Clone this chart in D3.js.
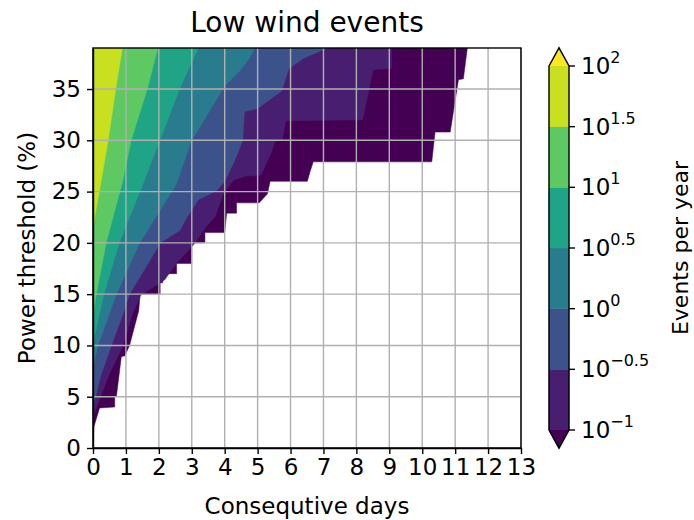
<!DOCTYPE html>
<html lang="en">
<head>
<meta charset="utf-8">
<title>Low wind events</title>
<style>
  body { margin: 0; background: #fff; }
  svg text { font-family: "DejaVu Sans", sans-serif; fill: #000; }
  .grid line { stroke: #b0b0b0; stroke-width: 1.4; }
  .axis path, .axis line { stroke: #000; stroke-width: 1.4; }
</style>
</head>
<body>
<svg id="chart" width="694" height="520"></svg>
<script src="https://d3js.org/d3.v7.min.js"></script>
<script>
// contour levels, log10(events per year)
var levels = [-1, -0.5, 0, 0.5, 1, 1.5, 2];
var xTicks = [0, 1, 2, 3, 4, 5, 6, 7, 8, 9, 10, 11, 12, 13];
var yTicks = [0, 5, 10, 15, 20, 25, 30, 35];
var cbarLabels = ["\u22121", "\u22120.5", "0", "0.5", "1", "1.5", "2"];

// boundaries: [power threshold %, consecutive days]
// edge of any event (events > 0)
var edgeAny = [[0.8, 0], [2.1, 0.03], [3.9, 0.2], [4.0, 0.66], [5.0, 0.66], [5.0, 0.71], [8.9, 0.86], [9.0, 0.97],
  [10, 1.11], [13.4, 1.39], [15, 1.43], [15, 2.04], [16.1, 2.04], [16.1, 2.12], [17, 2.12], [17, 2.54], [18, 2.54],
  [18, 3.0], [20, 3.0], [20, 3.4], [21, 3.4], [21, 4.0], [22.9, 4.06], [22.9, 4.36], [23.9, 4.36], [23.9, 5.05],
  [24.8, 5.3], [26, 5.38], [26, 6.51], [26.9, 6.59], [27.9, 6.69], [27.9, 10.29], [30.8, 10.39], [30.8, 10.85],
  [35.9, 11.1], [36, 11.25], [39, 11.37]];
// events >= 10^-1
var edgeM10 = [[3.05, 0], [5, 0.23], [6.95, 0.46], [10, 0.91], [13.1, 1.2], [14.9, 1.45], [16.4, 2.18], [18, 2.53],
  [19.95, 3.09], [21.6, 3.44], [22.5, 3.7], [24.8, 3.96], [26.1, 4.26], [26.5, 4.62], [26.6, 5.1], [28.9, 5.43],
  [29.9, 5.53], [30, 5.75], [31.9, 5.86], [32, 8.19], [36.9, 8.51], [37, 9.07], [39, 9.07]];
// events >= 10^-0.5
var edgeM05 = [[4, 0], [7, 0.23], [10, 0.56], [13.4, 0.95], [15, 1.11], [17.7, 1.62], [20, 2.05], [21.2, 2.64],
  [22.2, 2.8], [24.2, 3.2], [25.1, 3.76], [26, 4.0], [28, 4.3], [30, 4.55], [32.8, 4.6], [33.1, 5.0], [34.8, 5.73],
  [37, 5.95], [38, 6.4], [38.7, 6.9], [39, 7.1]];
// events >= 10^0
var edgeP00 = [[7.8, 0], [10, 0.15], [15, 0.71], [20, 1.42], [25.7, 2.53], [30, 2.99], [31.3, 3.25], [33.2, 3.6],
  [34.8, 3.91], [35.5, 4.06], [36.8, 4.47], [38.1, 4.77], [39, 4.92]];
// events >= 10^0.5
var edgeP05 = [[10.2, 0], [15, 0.33], [20, 0.8], [26, 1.55], [30, 2.03], [35, 2.63], [39, 3.2]];
// events >= 10^1
var edgeP10 = [[12.8, 0], [15, 0.1], [20, 0.4], [26, 0.9], [30, 1.16], [35, 1.65], [39, 1.97]];
// events >= 10^1.5
var edgeP15 = [[21.6, 0], [25, 0.19], [30, 0.46], [35, 0.69], [39, 0.89]];

var edges = [edgeAny, edgeM10, edgeM05, edgeP00, edgeP05, edgeP10, edgeP15];

// viridis like matplotlib contourf with extend='both' (layer midpoints)
var fillColors = [d3.interpolateViridis(0)].concat(
  d3.range(6).map(function(i) { return d3.interpolateViridis((2 * i + 1) / 12); }));
var overColor = d3.interpolateViridis(1);

var svg = d3.select('#chart');
var plot = {left: 93, right: 521, top: 48, bottom: 448};
var fs = 23;

var x = d3.scaleLinear().domain([0, 13]).range([plot.left, plot.right]);
var y = d3.scaleLinear().domain([0, 39]).range([plot.bottom, plot.top]);

svg.append('clipPath').attr('id', 'clip')
  .append('rect')
  .attr('x', plot.left).attr('y', plot.top)
  .attr('width', plot.right - plot.left).attr('height', plot.bottom - plot.top);

// filled contours
var line = d3.line()
  .x(function(d) { return x(d[1]); })
  .y(function(d) { return y(d[0]); });

var regions = svg.append('g').attr('clip-path', 'url(#clip)');
edges.forEach(function(edge, i) {
  var pts = [[edge[0][0], 0]].concat(edge, [[39, 0]]);
  regions.append('path')
    .attr('d', line(pts) + 'Z')
    .attr('fill', fillColors[i])
    .attr('stroke', fillColors[i])
    .attr('stroke-width', 0.5);
});

// grid
var grid = svg.append('g').attr('class', 'grid');
grid.selectAll('.gx').data(xTicks).enter().append('line')
  .attr('x1', function(d) { return x(d); }).attr('x2', function(d) { return x(d); })
  .attr('y1', plot.top).attr('y2', plot.bottom);
grid.selectAll('.gy').data(yTicks).enter().append('line')
  .attr('y1', function(d) { return y(d); }).attr('y2', function(d) { return y(d); })
  .attr('x1', plot.left).attr('x2', plot.right);

// axes
svg.append('g').attr('class', 'axis')
  .attr('transform', 'translate(0,' + plot.bottom + ')')
  .call(d3.axisBottom(x).tickValues(xTicks).tickFormat(d3.format('d')).tickSize(6).tickSizeOuter(0).tickPadding(5))
  .selectAll('text').attr('font-family', '"DejaVu Sans", sans-serif').attr('font-size', fs);
svg.append('g').attr('class', 'axis')
  .attr('transform', 'translate(' + plot.left + ',0)')
  .call(d3.axisLeft(y).tickValues(yTicks).tickFormat(d3.format('d')).tickSize(6).tickSizeOuter(0).tickPadding(6))
  .selectAll('text').attr('font-family', '"DejaVu Sans", sans-serif').attr('font-size', fs);

svg.append('rect')
  .attr('x', plot.left).attr('y', plot.top)
  .attr('width', plot.right - plot.left).attr('height', plot.bottom - plot.top)
  .attr('fill', 'none').attr('stroke', '#000').attr('stroke-width', 1.4);

// titles
svg.append('text').attr('x', (plot.left + plot.right) / 2).attr('y', 32)
  .attr('text-anchor', 'middle').attr('font-size', 28).text('Low wind events');
svg.append('text').attr('x', (plot.left + plot.right) / 2).attr('y', 514)
  .attr('text-anchor', 'middle').attr('font-size', fs).text('Consequtive days');
svg.append('text')
  .attr('transform', 'translate(35,' + (plot.top + plot.bottom) / 2 + ') rotate(-90)')
  .attr('text-anchor', 'middle').attr('font-size', fs).text('Power threshold (%)');

// colorbar
var cb = {x: 549, w: 20};
var cy = d3.scaleLinear().domain([-1, 2]).range([430, 66]);
var ext = (cy(-1) - cy(2)) * 0.05;
var cbar = svg.append('g');
d3.range(levels.length - 1).forEach(function(i) {
  cbar.append('rect')
    .attr('x', cb.x).attr('y', cy(levels[i + 1]))
    .attr('width', cb.w).attr('height', cy(levels[i]) - cy(levels[i + 1]))
    .attr('fill', fillColors[i + 1]).attr('stroke', fillColors[i + 1]).attr('stroke-width', 0.5);
});
cbar.append('path')
  .attr('d', 'M' + cb.x + ',' + cy(2) + 'L' + (cb.x + cb.w / 2) + ',' + (cy(2) - ext) + 'L' + (cb.x + cb.w) + ',' + cy(2) + 'Z')
  .attr('fill', overColor);
cbar.append('path')
  .attr('d', 'M' + cb.x + ',' + cy(-1) + 'L' + (cb.x + cb.w / 2) + ',' + (cy(-1) + ext) + 'L' + (cb.x + cb.w) + ',' + cy(-1) + 'Z')
  .attr('fill', fillColors[0]);
cbar.append('path')
  .attr('d', 'M' + cb.x + ',' + cy(2) + 'L' + (cb.x + cb.w / 2) + ',' + (cy(2) - ext) + 'L' + (cb.x + cb.w) + ',' + cy(2) +
    'L' + (cb.x + cb.w) + ',' + cy(-1) + 'L' + (cb.x + cb.w / 2) + ',' + (cy(-1) + ext) + 'L' + cb.x + ',' + cy(-1) + 'Z')
  .attr('fill', 'none').attr('stroke', '#000').attr('stroke-width', 1.4);

var cticks = cbar.selectAll('.ctick').data(levels).enter().append('g')
  .attr('transform', function(d) { return 'translate(' + (cb.x + cb.w) + ',' + cy(d) + ')'; });
cticks.append('line').attr('x1', 0).attr('x2', 6).attr('stroke', '#000').attr('stroke-width', 1.4);
var ct = cticks.append('text').attr('x', 12).attr('dy', 8).attr('font-size', fs);
ct.append('tspan').text('10');
ct.append('tspan').attr('dy', -11).attr('font-size', 16)
  .text(function(d, i) { return cbarLabels[i]; });

svg.append('text')
  .attr('transform', 'translate(688,' + cy(0.5) + ') rotate(-90)')
  .attr('text-anchor', 'middle').attr('font-size', fs - 1).text('Events per year');
</script>
</body>
</html>
